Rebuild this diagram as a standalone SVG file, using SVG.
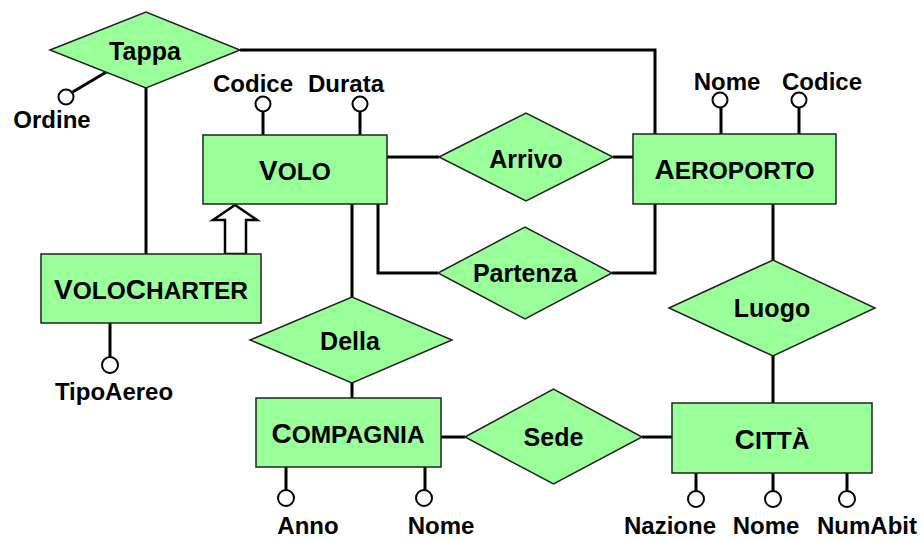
<svg xmlns="http://www.w3.org/2000/svg" width="923" height="540" viewBox="0 0 923 540">
<style>
.ent{fill:#99ff99;stroke:#222;stroke-width:1.5}
.rel{fill:#99ff99;stroke:#222;stroke-width:1.5}
.ln{fill:none;stroke:#000;stroke-width:3}
.att{fill:#fff;stroke:#000;stroke-width:2}
text{font-family:"Liberation Sans",Arial,sans-serif;font-weight:bold;fill:#000;text-anchor:middle}
.t-att{font-size:24px}
.t-rel{font-size:25px}
.t-ent{font-size:24.5px}
.big{font-size:28px}
</style>
<rect width="923" height="540" fill="#fff"/>
<g id="connectors">
<polyline class="ln" points="240,50 655,50 655,134"/>
<line class="ln" x1="146" y1="88" x2="146" y2="254"/>
<line class="ln" x1="387" y1="157" x2="439" y2="157"/>
<line class="ln" x1="613" y1="157" x2="633" y2="157"/>
<polyline class="ln" points="378,204 378,273 438,273"/>
<polyline class="ln" points="612,273 655,273 655,204"/>
<line class="ln" x1="352" y1="204" x2="352" y2="297"/>
<line class="ln" x1="352" y1="383" x2="352" y2="398"/>
<line class="ln" x1="773" y1="204" x2="773" y2="260"/>
<line class="ln" x1="773" y1="356" x2="773" y2="403"/>
<line class="ln" x1="441" y1="437" x2="465" y2="437"/>
<line class="ln" x1="642" y1="437" x2="672" y2="437"/>
<polygon points="225,254 225,220 213,220 235,205 257,220 246,220 246,254" fill="#fff" stroke="#000" stroke-width="2.5" stroke-linejoin="miter"/>
</g>
<g id="attr-lines">
<line class="ln" x1="263" y1="111" x2="263" y2="135"/>
<line class="ln" x1="360" y1="111" x2="360" y2="135"/>
<line class="ln" x1="721" y1="107" x2="721" y2="134"/>
<line class="ln" x1="799" y1="107" x2="799" y2="134"/>
<line class="ln" x1="110" y1="323" x2="110" y2="358"/>
<line class="ln" x1="286" y1="467" x2="286" y2="491"/>
<line class="ln" x1="425" y1="467" x2="425" y2="491"/>
<line class="ln" x1="696" y1="473" x2="696" y2="491"/>
<line class="ln" x1="773" y1="473" x2="773" y2="491"/>
<line class="ln" x1="847" y1="473" x2="847" y2="491"/>
<line class="ln" x1="71" y1="93" x2="108" y2="71"/>
</g>
<g id="tappa">
<polygon class="rel" points="50,50 146,12 240,50 146,88"/>
<text class="t-rel" x="145" y="60">Tappa</text>
<circle class="att" cx="66" cy="97" r="7.5"/>
<text class="t-att" x="52" y="128">Ordine</text>
</g>
<g id="volo">
<rect class="ent" x="203" y="135" width="184" height="69"/>
<text class="t-ent" x="295" y="180"><tspan class="big">V</tspan>OLO</text>
<circle class="att" cx="263" cy="104" r="7.5"/>
<text class="t-att" x="253" y="92">Codice</text>
<circle class="att" cx="360" cy="104" r="7.5"/>
<text class="t-att" x="346" y="92">Durata</text>
</g>
<g id="arrivo">
<polygon class="rel" points="439,157 526,113 613,157 526,201"/>
<text class="t-rel" x="526" y="168">Arrivo</text>
</g>
<g id="partenza">
<polygon class="rel" points="438,273 525,227 612,273 525,319"/>
<text class="t-rel" x="525" y="282">Partenza</text>
</g>
<g id="aeroporto">
<rect class="ent" x="633" y="134" width="203" height="70"/>
<text class="t-ent" x="734.5" y="179"><tspan class="big">A</tspan>EROPORTO</text>
<circle class="att" cx="720" cy="100" r="7.5"/>
<text class="t-att" x="727" y="90">Nome</text>
<circle class="att" cx="799" cy="100" r="7.5"/>
<text class="t-att" x="822" y="90">Codice</text>
</g>
<g id="volocharter">
<rect class="ent" x="41" y="254" width="220" height="69"/>
<text class="t-ent" x="151" y="299"><tspan class="big">V</tspan>OLO<tspan class="big">C</tspan>HARTER</text>
<circle class="att" cx="110" cy="365" r="8"/>
<text class="t-att" x="114" y="400">TipoAereo</text>
</g>
<g id="della">
<polygon class="rel" points="250,340 352,297 452,340 352,383"/>
<text class="t-rel" x="350" y="350">Della</text>
</g>
<g id="luogo">
<polygon class="rel" points="669,308 773,260 875,308 773,356"/>
<text class="t-rel" x="772" y="317">Luogo</text>
</g>
<g id="compagnia">
<rect class="ent" x="256" y="398" width="185" height="69"/>
<text class="t-ent" x="348" y="443"><tspan class="big">C</tspan>OMPAGNIA</text>
<circle class="att" cx="286" cy="498" r="8"/>
<text class="t-att" x="308" y="534">Anno</text>
<circle class="att" cx="424" cy="498" r="8"/>
<text class="t-att" x="441" y="534">Nome</text>
</g>
<g id="sede">
<polygon class="rel" points="465,437 553.5,389 642,437 553.5,484"/>
<text class="t-rel" x="553.5" y="446">Sede</text>
</g>
<g id="citta">
<rect class="ent" x="672" y="403" width="200" height="70"/>
<text class="t-ent" x="772" y="449"><tspan class="big">C</tspan>ITTÀ</text>
<circle class="att" cx="696" cy="499" r="8"/>
<text class="t-att" x="670" y="534">Nazione</text>
<circle class="att" cx="773" cy="499" r="8"/>
<text class="t-att" x="766" y="534">Nome</text>
<circle class="att" cx="847" cy="499" r="8"/>
<text class="t-att" x="867" y="534">NumAbit</text>
</g>
</svg>
